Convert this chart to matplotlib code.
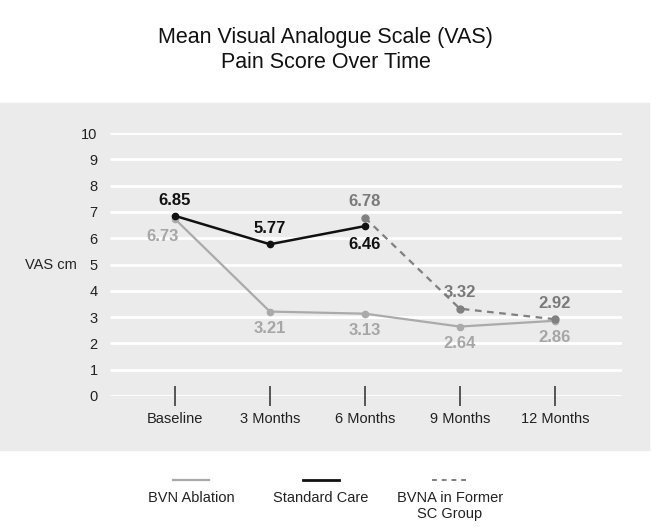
import matplotlib.pyplot as plt
from matplotlib.patches import Rectangle
from matplotlib.lines import Line2D
from matplotlib.transforms import blended_transform_factory

plt.rcParams['font.family'] = ['Liberation Sans', 'DejaVu Sans']

timepoints = ["Baseline", "3 Months", "6 Months", "9 Months", "12 Months"]

bvn_x = [0, 1, 2, 3, 4]
bvn_vals = [6.73, 3.21, 3.13, 2.64, 2.86]

sc_x = [0, 1, 2]
sc_vals = [6.85, 5.77, 6.46]

former_x = [2, 3, 4]
former_vals = [6.78, 3.32, 2.92]

yticks = list(range(0, 11))

c_bvn = '#aaaaaa'
c_sc = '#111111'
c_former = '#808080'
panel_col = '#ebebec'


def main():
    fig = plt.figure(figsize=(6.51, 5.27), dpi=100)

    # grey panel behind the plot area
    fig.patches.append(Rectangle((0, 0.146), 649 / 651, 0.6586,
                                 transform=fig.transFigure, color=panel_col,
                                 zorder=-10))

    ax = fig.add_axes([0.169, 0.2486, 0.786, 0.499])
    ax.set_facecolor('none')
    for s in ax.spines.values():
        s.set_visible(False)

    ax.set_xlim(-0.684, 4.705)
    ax.set_ylim(0, 10)
    ax.set_yticks(yticks)
    # white gridlines drawn under the tick marks
    ax.hlines(yticks, -0.684, 4.705, colors='white', linewidth=2, zorder=0)
    ax.set_axisbelow(False)
    ax.tick_params(axis='y', length=0, pad=9, labelsize=10.5, labelcolor='#222222')
    ax.set_xticks(bvn_x)
    ax.set_xticklabels(timepoints)
    ax.tick_params(axis='x', direction='inout', length=15, width=1.4,
                   color='#555555', pad=4, labelsize=10.5, labelcolor='#222222')

    ax.plot(bvn_x, bvn_vals, color=c_bvn, lw=1.6, marker='o', ms=4.5, zorder=3)
    ax.plot(former_x, former_vals, color=c_former, lw=1.6, ls=(0, (3, 2.5)),
            marker='o', ms=5, zorder=3)
    ax.plot(sc_x, sc_vals, color=c_sc, lw=1.8, marker='o', ms=4.5, zorder=4)

    def lab(x, y, dy, col, dx=0):
        ax.annotate(f"{y:.2f}", (x, y), xytext=(dx, dy), textcoords='offset pixels',
                    ha='center', va='center', fontsize=12, fontweight='bold',
                    color=col, zorder=5)

    for i, (x, y) in enumerate(zip(bvn_x, bvn_vals)):
        lab(x, y, -17, '#a6a6a6', dx=-12 if i == 0 else 0)
    lab(sc_x[0], sc_vals[0], 15, c_sc)
    lab(sc_x[1], sc_vals[1], 16, c_sc)
    lab(sc_x[2], sc_vals[2], -18, c_sc)
    for x, y in zip(former_x, former_vals):
        lab(x, y, 16, '#7a7a7a')

    tr = blended_transform_factory(fig.transFigure, ax.transData)
    ax.text(25 / 651, 5, "VAS cm", transform=tr, ha='left', va='center',
            fontsize=10.5, color='#222222')

    fig.text(0.5, 1 - 37 / 527, "Mean Visual Analogue Scale (VAS)",
             ha='center', va='center', fontsize=15.5, color='#111111')
    fig.text(0.5, 1 - 62 / 527, "Pain Score Over Time",
             ha='center', va='center', fontsize=15.5, color='#111111')

    # legend: line sample above each label
    ly = 1 - 480 / 527
    items = [
        (191, "BVN Ablation", c_bvn, '-', 1.6),
        (321, "Standard Care", c_sc, '-', 2.0),
        (450, "BVNA in Former\nSC Group", c_former, (0, (2.5, 2.5)), 1.4),
    ]
    for cx, text, col, ls, lw in items:
        fig.add_artist(Line2D([(cx - 18) / 651, (cx + 18) / 651], [ly, ly],
                              transform=fig.transFigure, color=col, ls=ls, lw=lw))
        fig.text(cx / 651, 1 - 491 / 527, text, ha='center', va='top',
                 fontsize=10.5, color='#222222', linespacing=1.15)

    fig.savefig("out.png", dpi=100)


if __name__ == "__main__":
    main()
